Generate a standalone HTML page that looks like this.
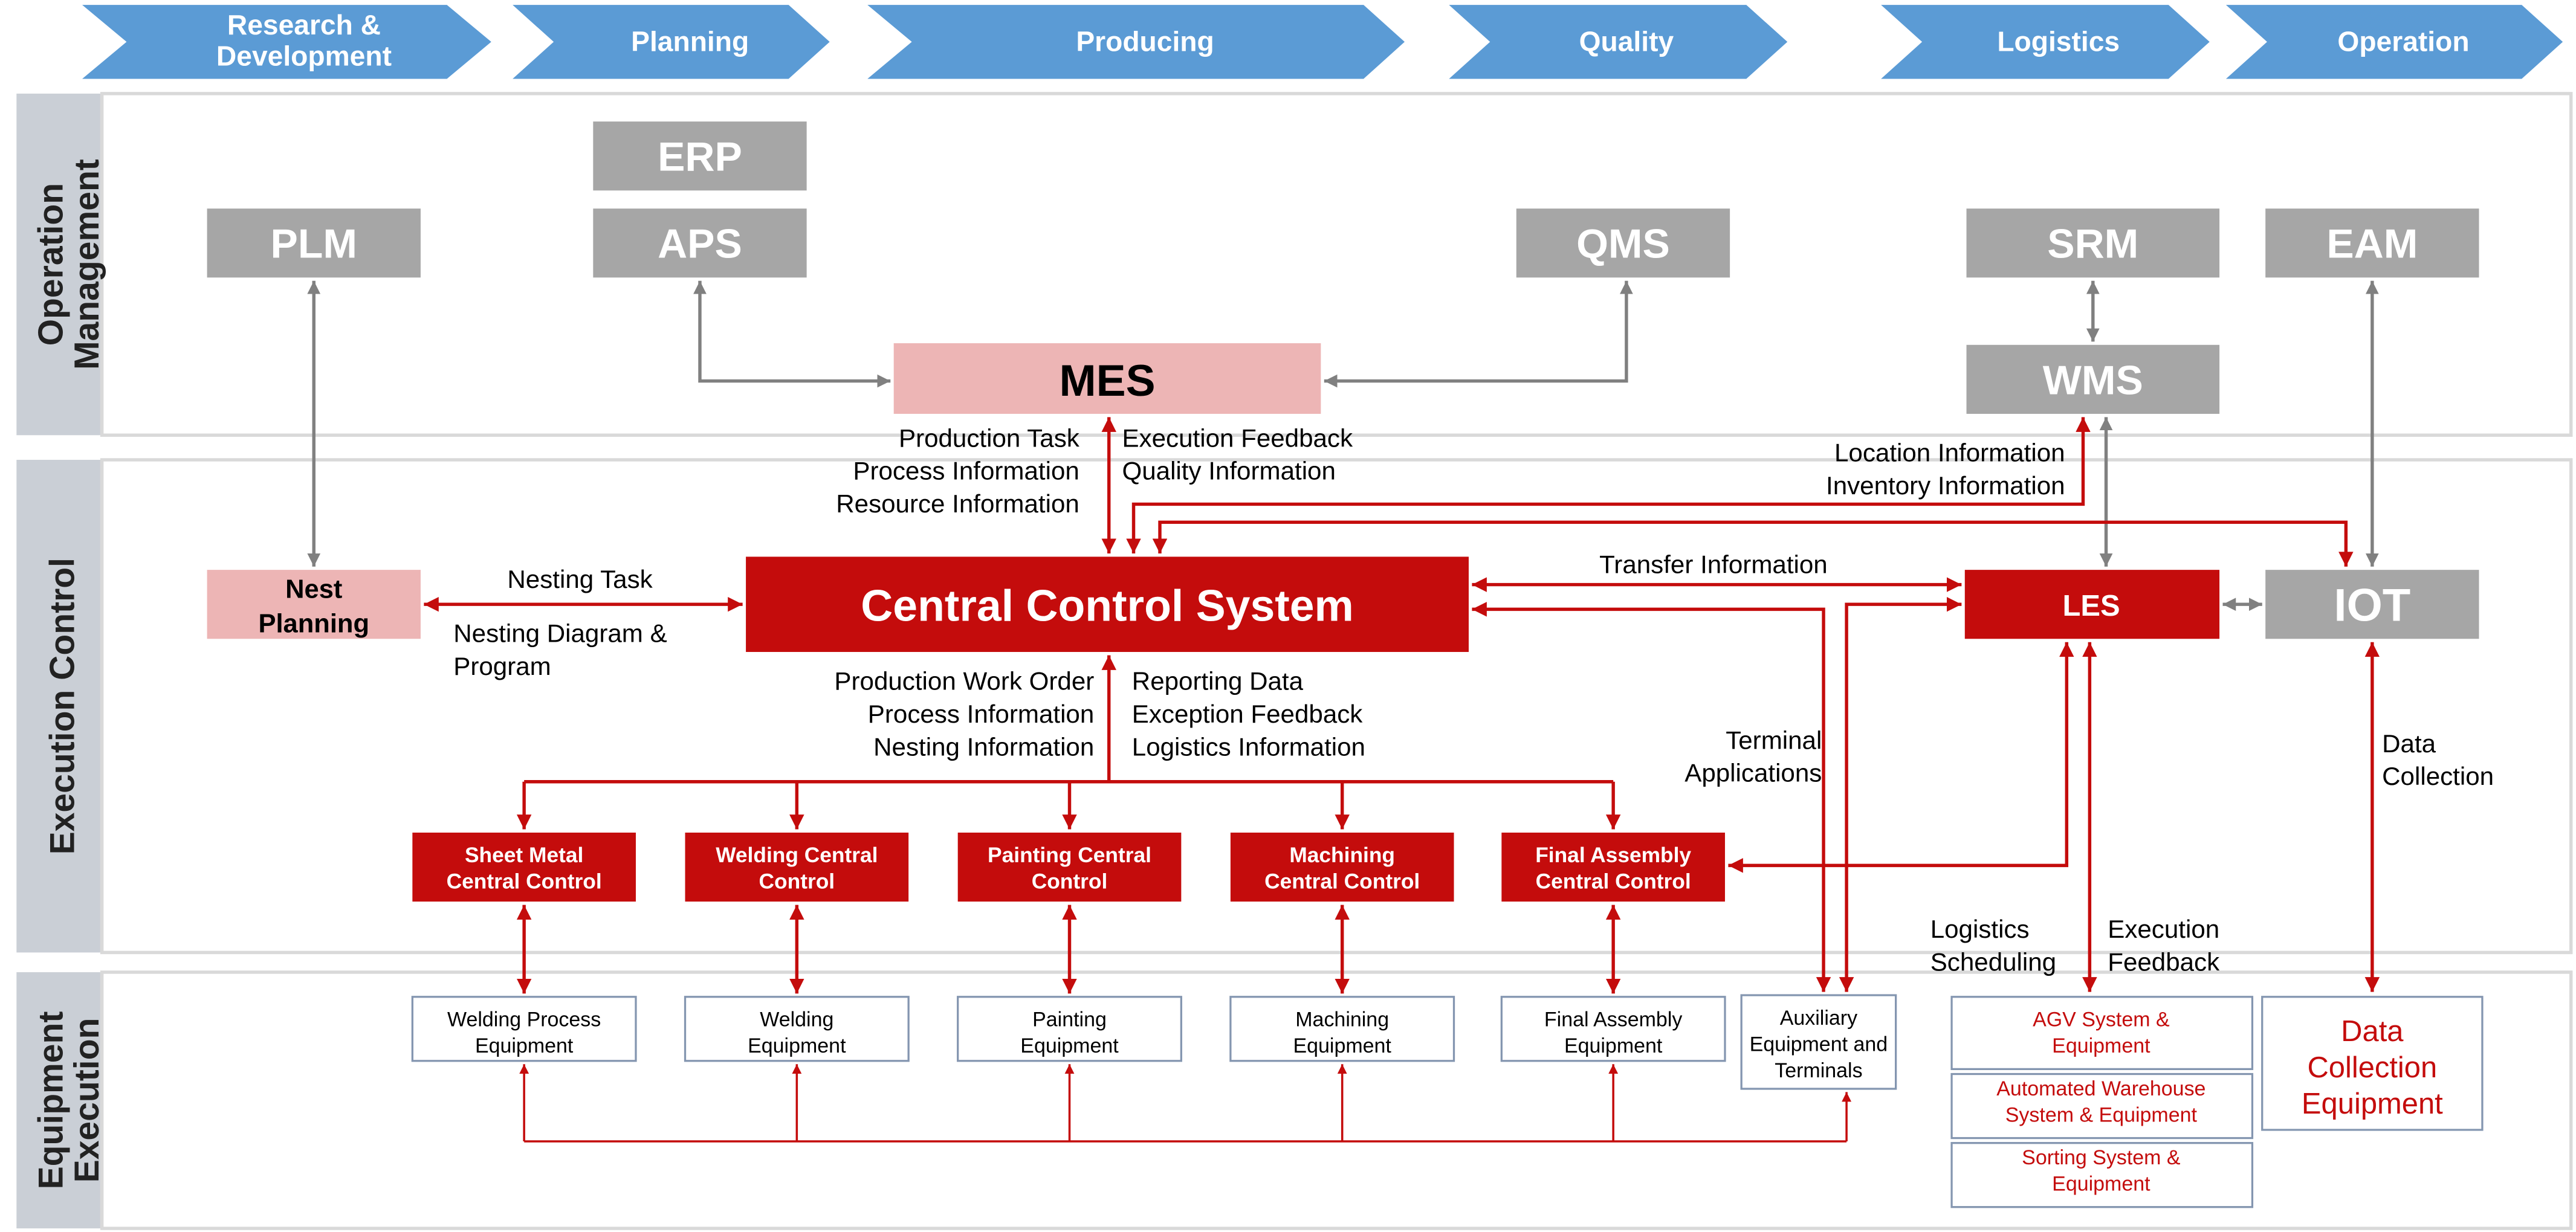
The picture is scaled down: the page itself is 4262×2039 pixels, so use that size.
<!DOCTYPE html>
<html><head><meta charset="utf-8"><style>
html,body{margin:0;padding:0;background:#fff;}
svg{display:block;}
text{font-family:"Liberation Sans",sans-serif;}
</style></head><body>
<svg width="4262" height="2039" viewBox="0 0 1568 750.2" xmlns="http://www.w3.org/2000/svg">
<defs>
<marker id="r" viewBox="0 0 10 10" refX="10" refY="5" markerWidth="4.5" markerHeight="4.5" orient="auto-start-reverse"><path d="M0,0 L10,5 L0,10 z" fill="#C40C0C"/></marker>
<marker id="g" viewBox="0 0 10 10" refX="10" refY="5" markerWidth="4" markerHeight="4" orient="auto-start-reverse"><path d="M0,0 L10,5 L0,10 z" fill="#808080"/></marker>
</defs>
<g fill="#5B9BD5">
<path d="M50,3 L272,3 L299,25.5 L272,48 L50,48 L77,25.5 z"/>
<path d="M312,3 L480,3 L505,25.5 L480,48 L312,48 L337,25.5 z"/>
<path d="M528,3 L830,3 L855,25.5 L830,48 L528,48 L555,25.5 z"/>
<path d="M882,3 L1063,3 L1088,25.5 L1063,48 L882,48 L907,25.5 z"/>
<path d="M1145,3 L1320,3 L1345,25.5 L1320,48 L1145,48 L1170,25.5 z"/>
<path d="M1355,3 L1535,3 L1560,25.5 L1535,48 L1355,48 L1380,25.5 z"/>
</g>
<g fill="#fff" font-weight="bold" font-size="17" text-anchor="middle">
<text x="185" y="21">Research &amp;</text><text x="185" y="40">Development</text>
<text x="420" y="31">Planning</text>
<text x="697" y="31">Producing</text>
<text x="990" y="31">Quality</text>
<text x="1253" y="31">Logistics</text>
<text x="1463" y="31">Operation</text>
</g>
<g fill="#CACFD6">
<rect x="10" y="57" width="51" height="208"/>
<rect x="10" y="280" width="51" height="300"/>
<rect x="10" y="592" width="51" height="156"/>
</g>
<g fill="#fff" stroke="#D9D9D9" stroke-width="2">
<rect x="62" y="57" width="1503" height="208"/>
<rect x="62" y="280" width="1503" height="300"/>
<rect x="62" y="592" width="1503" height="156"/>
</g>
<g font-weight="bold" font-size="21" fill="#222" text-anchor="middle">
<text transform="translate(38,161) rotate(-90)">Operation</text>
<text transform="translate(60,161) rotate(-90)">Management</text>
<text transform="translate(45,430) rotate(-90)">Execution Control</text>
<text transform="translate(38,670) rotate(-90)">Equipment</text>
<text transform="translate(60,670) rotate(-90)">Execution</text>
</g>
<g fill="#A6A6A6">
<rect x="126" y="127" width="130" height="42"/>
<rect x="361" y="74" width="130" height="42"/>
<rect x="361" y="127" width="130" height="42"/>
<rect x="923" y="127" width="130" height="42"/>
<rect x="1197" y="127" width="154" height="42"/>
<rect x="1379" y="127" width="130" height="42"/>
<rect x="1197" y="210" width="154" height="42"/>
<rect x="1379" y="347" width="130" height="42"/>
</g>
<g fill="#fff" font-weight="bold" font-size="25" text-anchor="middle">
<text x="191" y="157">PLM</text>
<text x="426" y="104">ERP</text>
<text x="426" y="157">APS</text>
<text x="988" y="157">QMS</text>
<text x="1274" y="157">SRM</text>
<text x="1444" y="157">EAM</text>
<text x="1274" y="240">WMS</text>
<text x="1444" y="378" font-size="28">IOT</text>
</g>
<rect x="544" y="209" width="260" height="43" fill="#EDB5B5"/>
<text x="674" y="241" font-weight="bold" font-size="27" text-anchor="middle" fill="#000">MES</text>
<rect x="126" y="347" width="130" height="42" fill="#EDB5B5"/>
<text x="191" y="364" font-weight="bold" font-size="16" text-anchor="middle">Nest</text>
<text x="191" y="385" font-weight="bold" font-size="16" text-anchor="middle">Planning</text>
<rect x="454" y="339" width="440" height="58" fill="#C40C0C"/>
<text x="674" y="378" font-weight="bold" font-size="27" text-anchor="middle" fill="#fff">Central Control System</text>
<rect x="1196" y="347" width="155" height="42" fill="#C40C0C"/>
<text x="1273" y="375" font-weight="bold" font-size="18" text-anchor="middle" fill="#fff">LES</text>
<g fill="#C40C0C">
<rect x="251" y="507" width="136" height="42"/>
<rect x="417" y="507" width="136" height="42"/>
<rect x="583" y="507" width="136" height="42"/>
<rect x="749" y="507" width="136" height="42"/>
<rect x="914" y="507" width="136" height="42"/>
</g>
<g fill="#fff" font-weight="bold" font-size="13" text-anchor="middle">
<text x="319" y="525">Sheet Metal</text><text x="319" y="541">Central Control</text>
<text x="485" y="525">Welding Central</text><text x="485" y="541">Control</text>
<text x="651" y="525">Painting Central</text><text x="651" y="541">Control</text>
<text x="817" y="525">Machining</text><text x="817" y="541">Central Control</text>
<text x="982" y="525">Final Assembly</text><text x="982" y="541">Central Control</text>
</g>
<g fill="#fff" stroke="#8496B0" stroke-width="1.2">
<rect x="251" y="607" width="136" height="39"/>
<rect x="417" y="607" width="136" height="39"/>
<rect x="583" y="607" width="136" height="39"/>
<rect x="749" y="607" width="136" height="39"/>
<rect x="914" y="607" width="136" height="39"/>
<rect x="1060" y="606" width="94" height="57"/>
<rect x="1188" y="607" width="183" height="44"/>
<rect x="1188" y="654" width="183" height="39"/>
<rect x="1188" y="696" width="183" height="39"/>
<rect x="1377" y="607" width="134" height="81"/>
</g>
<g fill="#000" font-size="12.5" text-anchor="middle">
<text x="319" y="625">Welding Process</text><text x="319" y="641">Equipment</text>
<text x="485" y="625">Welding</text><text x="485" y="641">Equipment</text>
<text x="651" y="625">Painting</text><text x="651" y="641">Equipment</text>
<text x="817" y="625">Machining</text><text x="817" y="641">Equipment</text>
<text x="982" y="625">Final Assembly</text><text x="982" y="641">Equipment</text>
<text x="1107" y="624">Auxiliary</text><text x="1107" y="640">Equipment and</text><text x="1107" y="656">Terminals</text>
</g>
<g fill="#C40C0C" font-size="12.5" text-anchor="middle">
<text x="1279" y="625">AGV System &amp;</text><text x="1279" y="641">Equipment</text>
<text x="1279" y="667">Automated Warehouse</text><text x="1279" y="683">System &amp; Equipment</text>
<text x="1279" y="709">Sorting System &amp;</text><text x="1279" y="725">Equipment</text>
<text x="1444" y="634" font-size="18">Data</text><text x="1444" y="656" font-size="18">Collection</text><text x="1444" y="678" font-size="18">Equipment</text>
</g>
<g stroke="#808080" stroke-width="2" fill="none">
<path d="M191,171 L191,345" marker-start="url(#g)" marker-end="url(#g)"/>
<path d="M426,171 L426,232 L542,232" marker-start="url(#g)" marker-end="url(#g)"/>
<path d="M806,232 L990,232 L990,171" marker-start="url(#g)" marker-end="url(#g)"/>
<path d="M1274,171 L1274,208" marker-start="url(#g)" marker-end="url(#g)"/>
<path d="M1444,171 L1444,345" marker-start="url(#g)" marker-end="url(#g)"/>
<path d="M1282,254 L1282,345" marker-start="url(#g)" marker-end="url(#g)"/>
<path d="M1353,368 L1377,368" marker-start="url(#g)" marker-end="url(#g)"/>
</g>
<g stroke="#C40C0C" stroke-width="2" fill="none">
<path d="M675,254 L675,337" marker-start="url(#r)" marker-end="url(#r)"/>
<path d="M690,337 L690,307 L1268,307 L1268,254" marker-start="url(#r)" marker-end="url(#r)"/>
<path d="M706,337 L706,318 L1428,318 L1428,345" marker-start="url(#r)" marker-end="url(#r)"/>
<path d="M258,368 L452,368" marker-start="url(#r)" marker-end="url(#r)"/>
<path d="M896,356 L1194,356" marker-start="url(#r)" marker-end="url(#r)"/>
<path d="M896,371 L1110,371 L1110,604" marker-start="url(#r)" marker-end="url(#r)"/>
<path d="M1124,604 L1124,368 L1194,368" marker-start="url(#r)" marker-end="url(#r)"/>
<path d="M1258,391 L1258,527 L1052,527" marker-start="url(#r)" marker-end="url(#r)"/>
<path d="M1272,391 L1272,604" marker-start="url(#r)" marker-end="url(#r)"/>
<path d="M1444,391 L1444,604" marker-start="url(#r)" marker-end="url(#r)"/>
<path d="M675,399 L675,476"  marker-start="url(#r)"/>
<path d="M319,476 L982,476"/>
<path d="M319,476 L319,505" marker-end="url(#r)"/>
<path d="M485,476 L485,505" marker-end="url(#r)"/>
<path d="M651,476 L651,505" marker-end="url(#r)"/>
<path d="M817,476 L817,505" marker-end="url(#r)"/>
<path d="M982,476 L982,505" marker-end="url(#r)"/>
<path d="M319,551 L319,605" marker-start="url(#r)" marker-end="url(#r)"/>
<path d="M485,551 L485,605" marker-start="url(#r)" marker-end="url(#r)"/>
<path d="M651,551 L651,605" marker-start="url(#r)" marker-end="url(#r)"/>
<path d="M817,551 L817,605" marker-start="url(#r)" marker-end="url(#r)"/>
<path d="M982,551 L982,605" marker-start="url(#r)" marker-end="url(#r)"/>
</g>
<g stroke="#C40C0C" stroke-width="1.3" fill="none">
<path d="M319,695 L1124,695"/>
<path d="M319,695 L319,648" marker-end="url(#r)"/>
<path d="M485,695 L485,648" marker-end="url(#r)"/>
<path d="M651,695 L651,648" marker-end="url(#r)"/>
<path d="M817,695 L817,648" marker-end="url(#r)"/>
<path d="M982,695 L982,648" marker-end="url(#r)"/>
<path d="M1124,695 L1124,665" marker-end="url(#r)"/>
</g>
<g fill="#000" font-size="15.5">
<text x="353" y="358" text-anchor="middle">Nesting Task</text>
<text x="276" y="391">Nesting Diagram &amp;</text>
<text x="276" y="411">Program</text>
<g text-anchor="end">
<text x="657" y="272">Production Task</text>
<text x="657" y="292">Process Information</text>
<text x="657" y="312">Resource Information</text>
<text x="666" y="420">Production Work Order</text>
<text x="666" y="440">Process Information</text>
<text x="666" y="460">Nesting Information</text>
<text x="1257" y="281">Location Information</text>
<text x="1257" y="301">Inventory Information</text>
<text x="1109" y="456">Terminal</text>
<text x="1109" y="476">Applications</text>
</g>
<text x="683" y="272">Execution Feedback</text>
<text x="683" y="292">Quality Information</text>
<text x="689" y="420">Reporting Data</text>
<text x="689" y="440">Exception Feedback</text>
<text x="689" y="460">Logistics Information</text>
<text x="1043" y="349" text-anchor="middle">Transfer Information</text>
<text x="1450" y="458">Data</text>
<text x="1450" y="478">Collection</text>
<text x="1175" y="571">Logistics</text>
<text x="1175" y="591">Scheduling</text>
<text x="1283" y="571">Execution</text>
<text x="1283" y="591">Feedback</text>
</g>
</svg>
</body></html>
